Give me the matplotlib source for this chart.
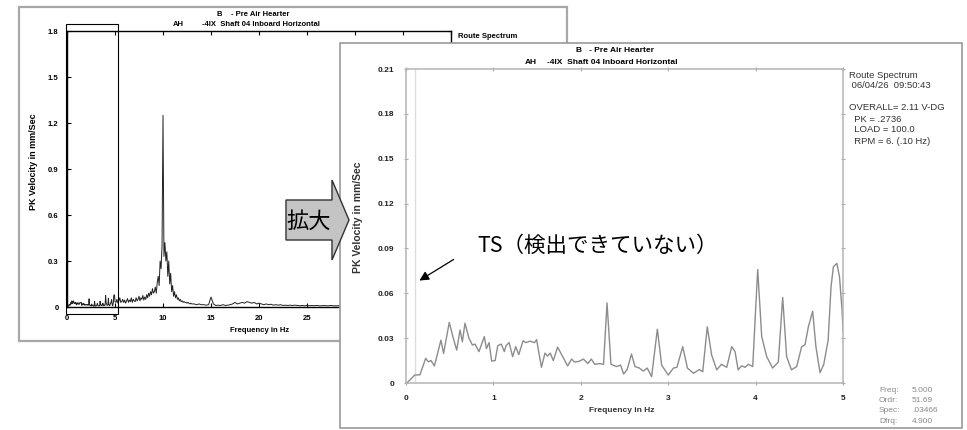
import numpy as np
import matplotlib.pyplot as plt
from matplotlib.patches import Rectangle, Polygon

plt.rcParams['font.family'] = ['Liberation Sans', 'DejaVu Sans']

# zoomed spectrum, 0 - 5 Hz
zoom_freq = [0.0, 0.01, 0.10, 0.16, 0.225, 0.255, 0.286, 0.325, 0.40, 0.43,
             0.495, 0.541, 0.58, 0.618, 0.645, 0.675, 0.72, 0.76, 0.79, 0.835,
             0.896, 0.92, 0.95, 0.98, 1.02, 1.05, 1.09, 1.125, 1.145, 1.18,
             1.22, 1.255, 1.29, 1.34, 1.37, 1.42, 1.47, 1.495, 1.515, 1.55,
             1.59, 1.62, 1.65, 1.685, 1.735, 1.78, 1.85, 1.895, 1.93, 1.98,
             2.03, 2.08, 2.12, 2.16, 2.21, 2.26, 2.30, 2.345, 2.41, 2.455,
             2.49, 2.53, 2.58, 2.62, 2.67, 2.715, 2.76, 2.81, 2.876, 2.925,
             3.0, 3.06, 3.1, 3.166, 3.22, 3.29, 3.356, 3.395, 3.447, 3.497,
             3.555, 3.61, 3.67, 3.727, 3.765, 3.80, 3.84, 3.88, 3.917, 3.967,
             4.024, 4.07, 4.127, 4.195, 4.26, 4.31, 4.355, 4.41, 4.47, 4.527,
             4.565, 4.604, 4.653, 4.69, 4.737, 4.78, 4.83, 4.863, 4.89, 4.93,
             4.96, 4.99, 5.0]
zoom_vel = [0.0, 0.0, 0.0053, 0.0055, 0.0165, 0.0142, 0.015, 0.0114, 0.0287, 0.0198,
            0.0405, 0.030, 0.022, 0.0354, 0.0276, 0.040, 0.030, 0.0254, 0.026, 0.021,
            0.031, 0.023, 0.027, 0.0147, 0.015, 0.025, 0.026, 0.021, 0.025, 0.027,
            0.0176, 0.0243, 0.019, 0.0283, 0.027, 0.028, 0.027, 0.029, 0.022, 0.0105,
            0.020, 0.018, 0.020, 0.015, 0.024, 0.019, 0.0114, 0.016, 0.014, 0.0145,
            0.016, 0.013, 0.016, 0.0125, 0.013, 0.0125, 0.0535, 0.0125, 0.011, 0.012,
            0.006, 0.009, 0.0194, 0.011, 0.010, 0.008, 0.010, 0.0042, 0.036, 0.012,
            0.0053, 0.010, 0.0105, 0.0243, 0.010, 0.0065, 0.009, 0.0075, 0.0376, 0.0187,
            0.0088, 0.0125, 0.0105, 0.0243, 0.021, 0.0088, 0.0115, 0.0105, 0.0125, 0.011,
            0.0759, 0.031, 0.0176, 0.010, 0.014, 0.0572, 0.0176, 0.0088, 0.011, 0.0243,
            0.0255, 0.0376, 0.048, 0.0243, 0.0069, 0.0125, 0.0287, 0.0643, 0.0777, 0.080,
            0.071, 0.048, 0.0347]

# full spectrum beyond 5 Hz (left panel)
mid_freq = np.linspace(5.1, 13.0, 80)
mid_vel = [0.03, 0.05, 0.025, 0.04, 0.06, 0.03, 0.035, 0.05, 0.03, 0.045,
           0.025, 0.04, 0.055, 0.03, 0.045, 0.035, 0.06, 0.03, 0.05, 0.04,
           0.035, 0.06, 0.04, 0.05, 0.07, 0.04, 0.06, 0.05, 0.075, 0.045,
           0.065, 0.05, 0.08, 0.06, 0.09, 0.07, 0.1, 0.08, 0.12, 0.09,
           0.1, 0.13, 0.09, 0.16, 0.2, 0.14, 0.3, 0.25, 0.4, 1.25,
           0.33, 0.42, 0.3, 0.36, 0.2, 0.3, 0.15, 0.22, 0.1, 0.14,
           0.07, 0.1, 0.06, 0.08, 0.05, 0.06, 0.04, 0.05, 0.035, 0.04,
           0.03, 0.035, 0.03, 0.03, 0.025, 0.03, 0.025, 0.02, 0.025, 0.02]
tail_freq = np.linspace(13.25, 28.5, 62)
tail_vel = [0.02, 0.015, 0.02, 0.015, 0.015, 0.012, 0.015, 0.065,
            0.02, 0.01, 0.012, 0.01, 0.015, 0.01, 0.012, 0.015,
            0.02, 0.03, 0.02, 0.025, 0.03, 0.025, 0.035, 0.03,
            0.025, 0.03, 0.02, 0.025, 0.02, 0.015, 0.02, 0.015,
            0.018, 0.012, 0.015, 0.012, 0.015, 0.01, 0.012, 0.01,
            0.012, 0.01, 0.012, 0.01, 0.008, 0.01, 0.008, 0.01,
            0.008, 0.01, 0.008, 0.01, 0.008, 0.008, 0.01, 0.008,
            0.008, 0.01, 0.008, 0.008, 0.008, 0.008]

full_freq = np.concatenate([zoom_freq, mid_freq, tail_freq])
full_vel = np.concatenate([zoom_vel, mid_vel, tail_vel])

left_yticks = [0, 0.3, 0.6, 0.9, 1.2, 1.5, 1.8]
left_ylabels = ['0', '0.3', '0.6', '0.9', '1.2', '1.5', '1.8']
right_yticks = [0, 0.03, 0.06, 0.09, 0.12, 0.15, 0.18, 0.21]
right_ylabels = ['0', '0.03', '0.06', '0.09', '0.12', '0.15', '0.18', '0.21']

info_lines = ['Route Spectrum', ' 06/04/26  09:50:43', '',
              'OVERALL= 2.11 V-DG', '  PK = .2736', '  LOAD = 100.0',
              '  RPM = 6. (.10 Hz)']
cursor_keys = ['Freq:', 'Ordr:', 'Spec:', 'Dfrq:']
cursor_vals = ['5.000', '51.69', '.03466', '4.900']

fig = plt.figure(figsize=(9.67, 4.30), dpi=100)


def pixel_axes(z):
    ax = fig.add_axes([0, 0, 1, 1])
    ax.set_xlim(0, 967)
    ax.set_ylim(430, 0)
    ax.axis('off')
    ax.set_zorder(z)
    return ax


# ---- left (full range) panel
bg1 = pixel_axes(0)
bg1.add_patch(Rectangle((19, 7), 548, 334, fc='white', ec='#a8a8a8', lw=1.6))
bg1.text(253, 15, 'B    - Pre Air Hearter', fontsize=5.5, fontweight='bold', ha='center', va='center')
bg1.text(173, 25, 'AH', fontsize=5.5, fontweight='bold', ha='left', va='center')
bg1.text(202, 25, '-4IX  Shaft 04 Inboard Horizontal', fontsize=5.5, fontweight='bold', ha='left', va='center')
bg1.text(458, 37, 'Route Spectrum', fontsize=5.5, fontweight='bold', ha='left', va='center')
bg1.text(33, 162, 'PK Velocity in mm/Sec', fontsize=6.5, fontweight='bold', rotation=90, ha='center', va='center')
bg1.text(260, 330, 'Frequency in Hz', fontsize=5.5, fontweight='bold', ha='center', va='center')

axl = fig.add_axes([67 / 967, 1 - 307 / 430, 384 / 967, 276 / 430])
axl.set_zorder(1)
axl.patch.set_visible(False)
axl.plot(full_freq, full_vel, color='#222222', lw=0.7)
axl.set_xlim(0, 40)
axl.set_ylim(0, 1.8)
axl.set_xticks(range(0, 45, 5))
axl.set_yticks(left_yticks)
axl.set_yticklabels(left_ylabels)
axl.tick_params(direction='in', length=3, width=0.8, top=True, right=True,
                labelsize=5.5, pad=6)
for lab in axl.get_xticklabels() + axl.get_yticklabels():
    lab.set_fontweight('bold')
for s in axl.spines.values():
    s.set_linewidth(1.0)

# ---- right (zoomed) panel
bg2 = pixel_axes(2)
bg2.add_patch(Rectangle((66, 24), 52, 290, fill=False, ec='black', lw=0.8))
bg2.add_patch(Rectangle((340, 43), 622, 385, fc='white', ec='#9a9a9a', lw=1.2))
bg2.text(615, 51, 'B   - Pre Air Hearter', fontsize=6, fontweight='bold', ha='center', va='center')
bg2.text(525, 63, 'AH', fontsize=6, fontweight='bold', ha='left', va='center')
bg2.text(547, 63, '-4IX  Shaft 04 Inboard Horizontal', fontsize=6, fontweight='bold', ha='left', va='center')
bg2.text(358, 217, 'PK Velocity in mm/Sec', fontsize=7.5, fontweight='bold', color='#333333',
         rotation=90, ha='center', va='center')
bg2.text(622, 410, 'Frequency in Hz', fontsize=6, fontweight='bold', color='#333333', ha='center', va='center')
for i, line in enumerate(info_lines):
    bg2.text(849, 75 + i * 11, line, fontsize=6.8, color='#333333', ha='left', va='center')
for i, (k, v) in enumerate(zip(cursor_keys, cursor_vals)):
    bg2.text(879, 390 + i * 10.4, k, fontsize=6, color='#8a8a8a', ha='left', va='center')
    bg2.text(912, 390 + i * 10.4, v, fontsize=6, color='#8a8a8a', ha='left', va='center')

axr = fig.add_axes([406 / 967, 1 - 383 / 430, 437 / 967, 314 / 430])
axr.set_zorder(3)
axr.patch.set_visible(False)
axr.axvline(0.1, color='#dddddd', lw=1.0)
axr.plot(zoom_freq, zoom_vel, color='#8c8c8c', lw=1.0)
axr.set_xlim(0, 5)
axr.set_ylim(0, 0.21)
axr.set_xticks(range(0, 6))
axr.set_yticks(right_yticks)
axr.set_yticklabels(right_ylabels)
axr.tick_params(direction='inout', length=3, width=0.8, color='#aaaaaa',
                top=True, right=True, labelsize=6, labelcolor='#222222', pad=7)
for lab in axr.get_xticklabels() + axr.get_yticklabels():
    lab.set_fontweight('bold')
for s in axr.spines.values():
    s.set_color('#b4b4b4')
    s.set_linewidth(1.1)

# ---- overlay: zoom arrow and annotation
top = pixel_axes(4)
top.add_patch(Polygon([(286, 200), (332, 200), (332, 180), (349, 220),
                       (332, 260), (332, 240), (286, 240)],
                      closed=True, fc='#c4c4c4', ec='#333333', lw=1.0))
top.text(309, 221, '拡大', fontsize=16, family=['Noto Sans CJK JP', 'DejaVu Sans'],
         ha='center', va='center')
top.text(477, 246, 'TS（検出できていない）', fontsize=15.5,
         family=['Noto Sans CJK JP', 'DejaVu Sans'], ha='left', va='center')
top.annotate('', xy=(417, 282), xytext=(456, 258),
             arrowprops=dict(arrowstyle='-|>', color='black', lw=0.9,
                             mutation_scale=14))

fig.savefig('out.png', dpi=100)
